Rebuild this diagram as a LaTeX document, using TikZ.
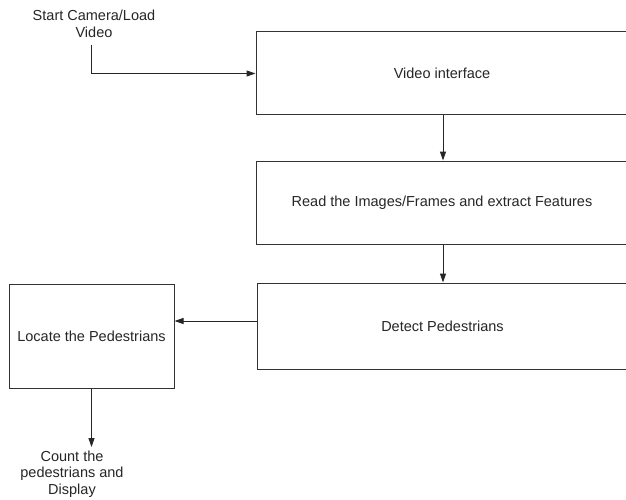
\documentclass[tikz,border=0pt]{standalone}
\usepackage{fontspec}
\setmainfont{Liberation Sans}
\usetikzlibrary{arrows.meta}
\begin{document}
\begin{tikzpicture}[x=1pt,y=-1pt,
  every node/.style={font=\fontsize{14.5}{16.7}\selectfont, text=black!85},
  box/.style={draw=black!80, line width=1pt, inner sep=0pt, align=center},
  lbl/.style={inner sep=0pt, align=center},
  conn/.style={draw=black!85, line width=1pt, -{Triangle[length=9pt,width=6pt]}}]
\useasboundingbox (0,0) rectangle (626,500);
\clip (0,0) rectangle (626,500);
\fill[white] (0,0) rectangle (626,500);
\node[box, minimum width=372, minimum height=83] (vi) at (442,73.5) {Video interface};
\node[box, minimum width=372, minimum height=83] (rd) at (442,202.5) {Read the Images/Frames and extract Features};
\node[box, minimum width=371, minimum height=86] (dp) at (442.5,326) {Detect Pedestrians};
\node[box, minimum width=165, minimum height=104] (lp) at (91.5,336) {Locate the Pedestrians};
\node[lbl] (st) at (94,24) {Start Camera/Load\\Video};
\node[lbl] (ct) at (72,474) {Count the\\pedestrians and\\Display};
\coordinate (s0) at (91,45);
\coordinate (c0) at (91.5,447);
\draw[conn] (s0) |- (vi.west);
\draw[conn] (vi.south -| 443,0) -- (rd.north -| 443,0);
\draw[conn] (rd.south -| 443,0) -- (dp.north -| 443,0);
\draw[conn] (dp.west |- 0,321) -- (lp.east |- 0,321);
\draw[conn] (lp.south) -- (c0);
\end{tikzpicture}
\end{document}
